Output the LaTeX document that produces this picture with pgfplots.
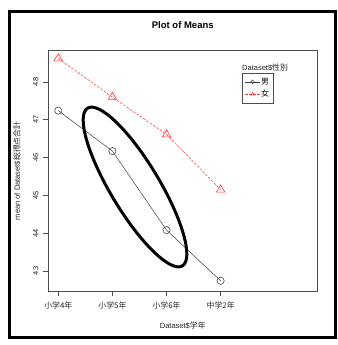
\documentclass[border=0pt]{standalone}
\usepackage{pgfplots}
\pgfplotsset{compat=1.18}
\usepackage{fontspec}
\setmainfont{Liberation Sans}
\newfontfamily\cjk[Scale=1.05]{Noto Sans CJK JP}
\begin{document}
\begin{tikzpicture}
\path[fill=white] (-48pt,-54pt) rectangle (289pt,291pt);
\begin{axis}[
  at={(0pt,0pt)}, anchor=south west,
  width=269.5pt, height=240.5pt, scale only axis,
  xmin=-0.19, xmax=4.79, ymin=42.47, ymax=48.83,
  axis line style={black!70, line width=0.6pt},
  xtick={0,1,2,3},
  xticklabels={{\cjk 小学4年},{\cjk 小学5年},{\cjk 小学6年},{\cjk 中学2年}},
  ytick={43,44,45,46,47,48},
  tick align=outside, tick pos=left, major tick length=5pt,
  tick style={black!70, line width=0.5pt},
  xticklabel shift=2pt, yticklabel shift=1pt,
  /pgf/number format/assume math mode=true,
  ticklabel style={font=\fontsize{7.5}{8.5}\selectfont, text=black!85},
  yticklabel style={rotate=90, anchor=south},
  xlabel={Dataset\$\cjk 学年},
  ylabel={mean of Dataset\$\cjk 総得点合計},
  label style={font=\fontsize{7.5}{8.5}\selectfont, text=black!85},
  xlabel style={at={(axis description cs:0.5,-0.1414)}, anchor=center},
  ylabel style={at={(axis description cs:-0.115,0.5)}, anchor=center},
  title={Plot of Means},
  title style={font=\bfseries\fontsize{9.5}{11}\selectfont, at={(axis description cs:0.5,1.081)}, anchor=center},
  legend style={at={(0.72,0.906)}, anchor=north west, draw=black!70,
    font=\fontsize{7.5}{8.5}\selectfont, inner xsep=3pt, inner ysep=3.5pt, row sep=2pt,
    nodes={inner sep=1.2pt}},
  legend cell align=left,
  legend image code/.code={\draw[mark repeat=2,mark phase=2,mark size=1.8pt] plot coordinates {(0cm,0cm) (0.25cm,0cm) (0.5cm,0cm)};},
]
\addplot[black!75, line width=0.5pt, mark=o, mark size=3.6pt, mark options={solid, black!70, line width=0.6pt}]
  coordinates {(0,47.24) (1,46.17) (2,44.08) (3,42.74)};
\addlegendentry{\cjk 男}
\addplot[red!80, line width=0.5pt, dash pattern=on 2.5pt off 1.5pt, mark=triangle, mark size=4.8pt, mark options={solid, red!80, line width=0.6pt}]
  coordinates {(0,48.62) (1,47.60) (2,46.61) (3,45.15)};
\addlegendentry{\cjk 女}
\end{axis}
\node[anchor=west, inner sep=0pt, font=\fontsize{7.5}{8.5}\selectfont, text=black!85] at (194pt,223pt) {Dataset\$\cjk 性別};
\draw[line width=3pt, rotate around={-59:(87pt,104pt)}] (87pt,104pt) ellipse [x radius=92pt, y radius=24.5pt];
\draw[line width=3pt] (-38pt,279.3pt) rectangle (287.5pt,-46pt);
\end{tikzpicture}
\end{document}
